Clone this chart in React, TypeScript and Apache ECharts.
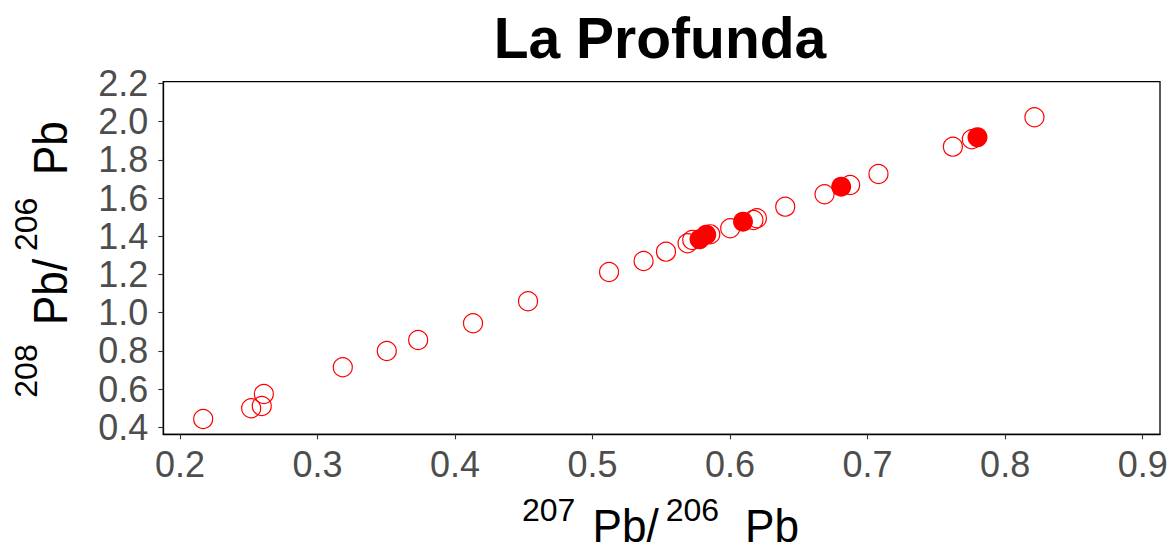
import React, { useEffect, useRef } from "react";
import * as echarts from "echarts";

const TITLE = "La Profunda";
const X_TICKS = [0.2, 0.3, 0.4, 0.5, 0.6, 0.7, 0.8, 0.9];
const Y_TICKS = [0.4, 0.6, 0.8, 1.0, 1.2, 1.4, 1.6, 1.8, 2.0, 2.2];
const X_TITLE_PARTS = ["207", "Pb/", "206", "Pb"];
const Y_TITLE_PARTS = ["208", "Pb/", "206", "Pb"];

// 207Pb/206Pb (x) and 208Pb/206Pb (y), open symbols
const openX = [0.2169, 0.2518, 0.2595, 0.261, 0.3184, 0.3504, 0.3732, 0.4131, 0.4531, 0.512, 0.5371, 0.5534, 0.5691, 0.5725, 0.5856, 0.6001, 0.617, 0.6195, 0.6401, 0.6687, 0.6873, 0.7079, 0.762, 0.7758, 0.8213];
const openY = [0.4435, 0.4995, 0.5115, 0.574, 0.714, 0.7995, 0.857, 0.9445, 1.0597, 1.213, 1.2707, 1.3194, 1.3634, 1.38, 1.41, 1.4419, 1.485, 1.494, 1.555, 1.6199, 1.6686, 1.7262, 1.869, 1.908, 2.023];

// filled symbols
const filledX = [0.5778, 0.5827, 0.6094, 0.6808, 0.7799];
const filledY = [1.384, 1.4084, 1.4765, 1.6597, 1.9183];

const FONT = '"Liberation Sans", Arial, sans-serif';
const SUP = 32;
const MAIN = 48;
const MAIN_SX = 0.92;

function piece(text: string, x: number, y: number, isSup: boolean, sy = 1) {
  return {
    type: "text",
    x,
    y,
    scaleX: isSup ? 1 : MAIN_SX,
    scaleY: sy,
    silent: true,
    style: {
      text,
      fontSize: isSup ? SUP : MAIN,
      fontFamily: FONT,
      fill: "#000",
      align: "left",
      verticalAlign: "middle",
    },
  };
}

export default function App() {
  const ref = useRef<HTMLDivElement>(null);
  useEffect(() => {
    if (!ref.current) return;
    const chart = echarts.init(ref.current, null, { renderer: "svg" });
    // x-axis title pieces (left x, vertical centre y)
    const xSupY = 509.5;
    const xMainY = 526;
    const xTitle = [
      piece(X_TITLE_PARTS[0], 522, xSupY, true),
      piece(X_TITLE_PARTS[1], 592.6, xMainY, false, 0.97),
      piece(X_TITLE_PARTS[2], 665.7, xSupY, true),
      piece(X_TITLE_PARTS[3], 745, xMainY, false, 0.97),
    ];
    // y-axis title: group rotated 90deg CCW; local (lx, ly) -> screen (ly, -lx)
    const ySupC = 25.6;
    const yMainC = 50.1;
    const yTitle = {
      type: "group",
      x: 0,
      y: 0,
      rotation: Math.PI / 2,
      children: [
        piece(Y_TITLE_PARTS[0], -397.7, ySupC, true),
        piece(Y_TITLE_PARTS[1], -325.1, yMainC, false),
        piece(Y_TITLE_PARTS[2], -251, ySupC, true),
        piece(Y_TITLE_PARTS[3], -175.1, yMainC, false),
      ],
    };
    chart.setOption({
      animation: false,
      backgroundColor: "#ffffff",
      textStyle: { fontFamily: FONT },
      graphic: [
        {
          type: "text",
          x: 660,
          y: 38,
          silent: true,
          style: {
            text: TITLE,
            fontSize: 57,
            fontWeight: "bold",
            fontFamily: FONT,
            fill: "#000",
            align: "center",
            verticalAlign: "middle",
          },
        },
        ...xTitle,
        yTitle,
      ],
      grid: {
        left: 163.3,
        right: 15,
        top: 81.7,
        bottom: 118.7,
        show: true,
        borderColor: "#000",
        borderWidth: 1.3,
        containLabel: false,
        outerBoundsMode: "none",
      },
      xAxis: {
        type: "value",
        min: 0.1879,
        max: 0.9126,
        splitLine: { show: false },
        axisLine: { show: true, onZero: false, lineStyle: { color: "#000", width: 1.3 } },
        axisTick: { show: true, length: 5, customValues: X_TICKS, lineStyle: { color: "#333", width: 1.1 } },
        axisLabel: {
          customValues: X_TICKS,
          formatter: (v: number) => v.toFixed(1),
          fontSize: 36,
          color: "#4d4d4d",
          fontFamily: FONT,
          margin: 12,
        },
      },
      yAxis: {
        type: "value",
        min: 0.3634,
        max: 2.209,
        splitLine: { show: false },
        axisLine: { show: true, onZero: false, lineStyle: { color: "#000", width: 1.3 } },
        axisTick: { show: true, length: 5, customValues: Y_TICKS, lineStyle: { color: "#333", width: 1.1 } },
        axisLabel: {
          customValues: Y_TICKS,
          formatter: (v: number) => v.toFixed(1),
          fontSize: 36,
          color: "#4d4d4d",
          fontFamily: FONT,
          margin: 15,
        },
      },
      series: [
        {
          type: "scatter",
          data: openX.map((x, i) => [x, openY[i]]),
          symbol: "circle",
          symbolSize: 19,
          itemStyle: { color: "rgba(0,0,0,0)", borderColor: "#ff0000", borderWidth: 1.2, opacity: 1 },
          emphasis: { disabled: true },
        },
        {
          type: "scatter",
          data: filledX.map((x, i) => [x, filledY[i]]),
          symbol: "circle",
          symbolSize: 20,
          itemStyle: { color: "#ff0000", borderColor: "#ff0000", borderWidth: 0, opacity: 1 },
          emphasis: { disabled: true },
        },
      ],
    });
    return () => chart.dispose();
  }, []);
  return (
    <div
      ref={ref}
      style={{ position: "fixed", left: 0, top: 0, width: 1175, height: 553, background: "#fff" }}
    />
  );
}
